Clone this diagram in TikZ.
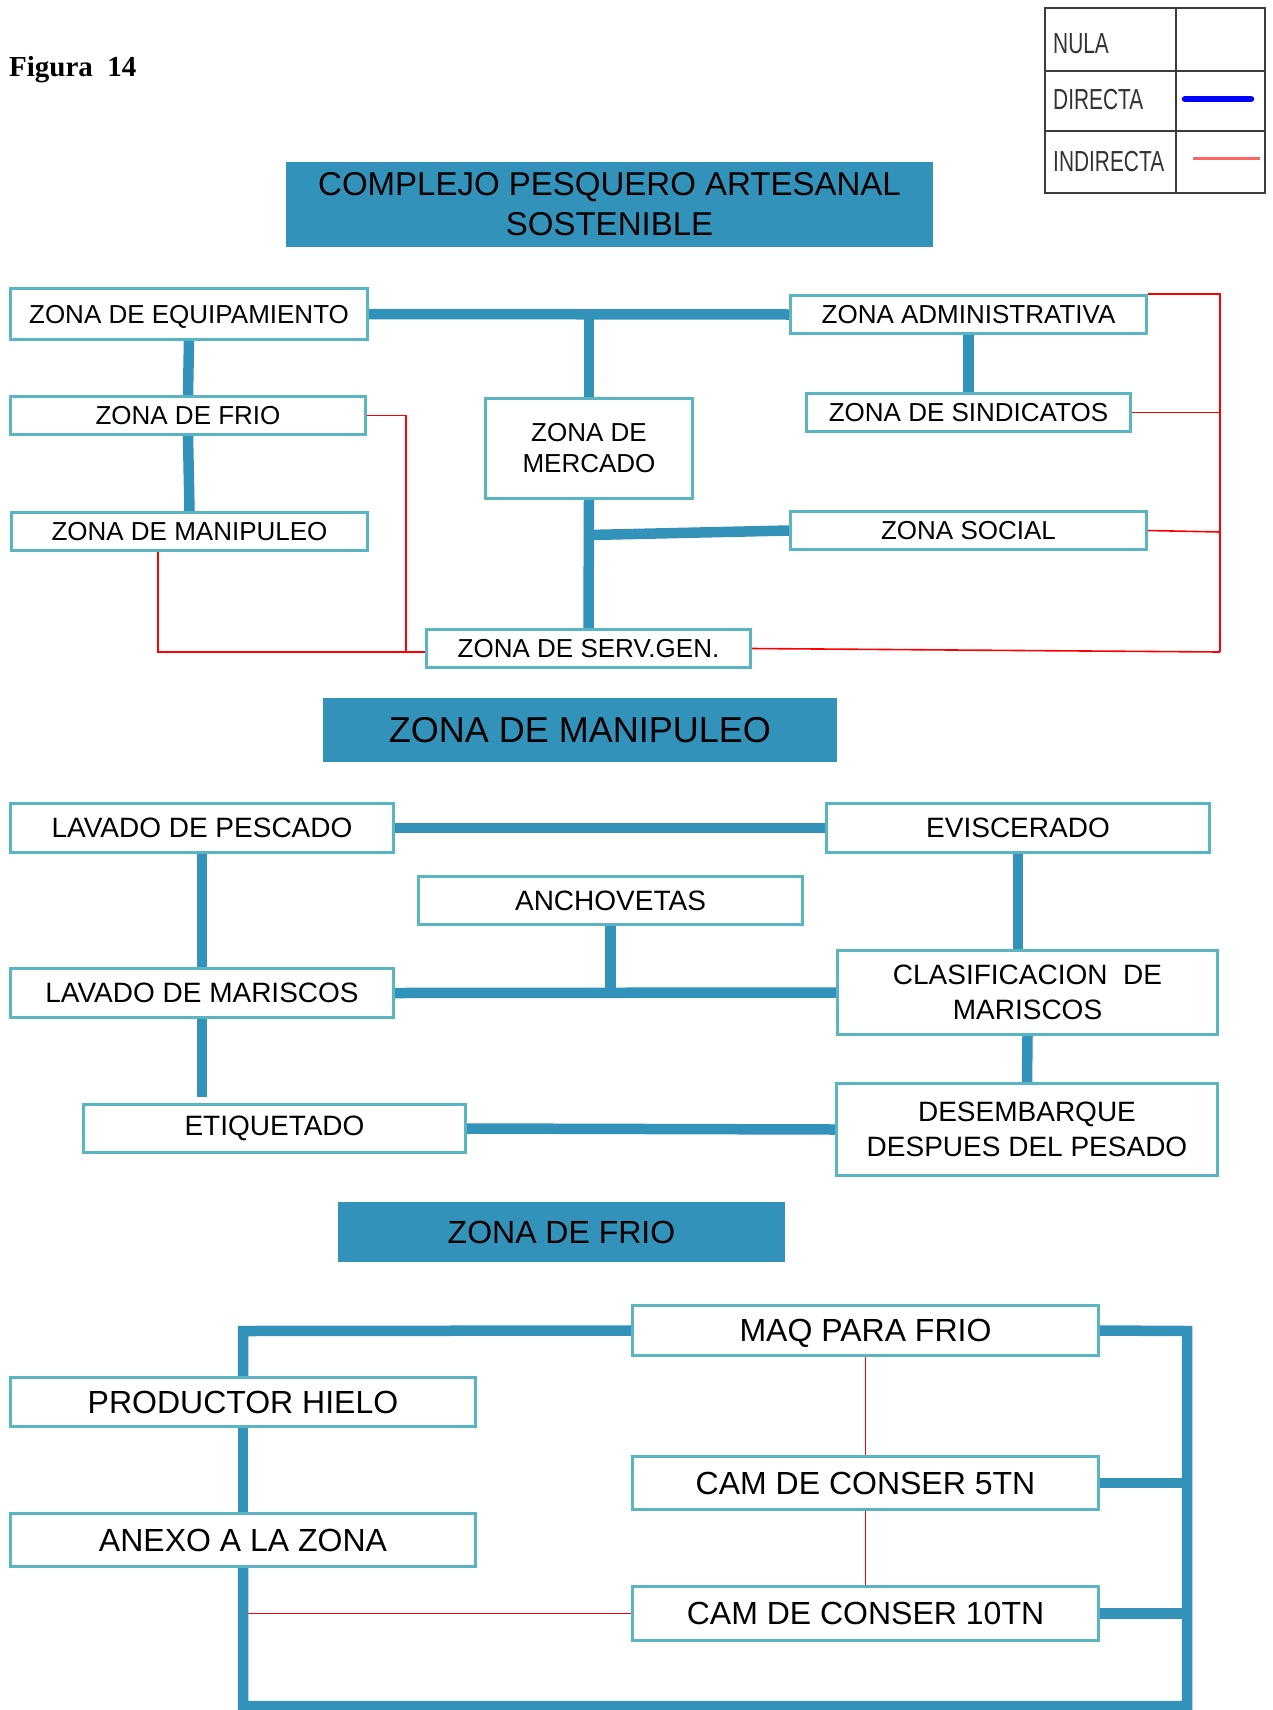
\documentclass[tikz,border=0pt]{standalone}
\usepackage{fontspec}
\setmainfont{Liberation Sans}
\newfontfamily\serifface{Liberation Serif}
\usetikzlibrary{backgrounds}
\definecolor{boxc}{RGB}{90,181,195}
\definecolor{tealfill}{RGB}{50,146,186}
\definecolor{legblue}{RGB}{0,0,255}
\definecolor{legred}{RGB}{255,100,100}
\definecolor{legline}{RGB}{60,60,60}
\begin{document}
\begin{tikzpicture}[x=1pt,y=-1pt,
  zbox/.style={draw=boxc, line width=3pt, fill=white, inner sep=0pt, align=center},
  ttl/.style={fill=tealfill, draw=none, inner sep=0pt, align=center},
  link/.style={draw=tealfill, line width=10.5pt, line join=miter},
  weak/.style={draw=red, line width=1.6pt},
  fa/.style={font=\fontsize{26}{31}\selectfont},
  fb/.style={font=\fontsize{28}{35}\selectfont},
  fc/.style={font=\fontsize{32}{38}\selectfont},
  legtext/.style={anchor=west, inner sep=0pt, text=black!80, font=\fontsize{29}{30}\selectfont}
]
\useasboundingbox (0,0) rectangle (1273,1710);

% caption
\node[anchor=base west, inner sep=0pt, font=\serifface\bfseries\fontsize{29}{30}\selectfont] (fig) at (9,77) {Figura\ \ 14};

% legend table
\draw[legline, line width=2.5pt] (1045,8) rectangle (1265,193);
\draw[legline, line width=2.5pt] (1176,8) -- (1176,193);
\draw[legline, line width=2.5pt] (1045,71) -- (1265,71);
\draw[legline, line width=2.5pt] (1045,131) -- (1265,131);
\node[legtext] (lnula) at (1053,44) {\scalebox{0.72}[1]{NULA}};
\node[legtext] (ldir) at (1053,100) {\scalebox{0.72}[1]{DIRECTA}};
\node[legtext] (lind) at (1053,162) {\scalebox{0.72}[1]{INDIRECTA}};
\draw[legblue, line width=6.5pt, line cap=round] (1185,99) -- (1251,99);
\draw[legred, line width=3pt] (1193,158) -- (1260,158);

% ---------- complejo pesquero ----------
\node[ttl, font=\fontsize{33}{40}\selectfont, minimum width=647pt, minimum height=85pt] (t1) at (609.5,204.5) {COMPLEJO PESQUERO ARTESANAL\\SOSTENIBLE};

\node[zbox, fa, text depth=0pt, minimum width=357pt, minimum height=51pt] (equip) at (189,314) {ZONA DE EQUIPAMIENTO};
\node[zbox, fa, minimum width=355pt, minimum height=38pt] (frio) at (188,415.5) {ZONA DE FRIO};
\node[zbox, fa, minimum width=356pt, minimum height=38pt] (manip) at (189.5,531.5) {ZONA DE MANIPULEO};
\node[zbox, fa, minimum width=207pt, minimum height=100pt] (merc) at (589,448.5) {ZONA DE\\MERCADO};
\node[zbox, fa, minimum width=324pt, minimum height=38pt] (serv) at (588.5,648.5) {ZONA DE SERV.GEN.};
\node[zbox, fa, minimum width=356pt, minimum height=38pt] (admin) at (968.5,314.5) {ZONA ADMINISTRATIVA};
\node[zbox, fa, minimum width=324pt, minimum height=38pt] (sind) at (968.5,412.5) {ZONA DE SINDICATOS};
\node[zbox, fa, minimum width=356pt, minimum height=38pt] (social) at (968.5,530.5) {ZONA SOCIAL};

% ---------- zona de manipuleo ----------
\node[ttl, font=\fontsize{36}{40}\selectfont, minimum width=514pt, minimum height=64pt] (t2) at (580,730) {ZONA DE MANIPULEO};

\node[zbox, fb, minimum width=383pt, minimum height=49pt] (lp) at (202,828) {LAVADO DE PESCADO};
\node[zbox, fb, minimum width=383pt, minimum height=49pt] (evis) at (1018,828) {EVISCERADO};
\node[zbox, fb, minimum width=384pt, minimum height=48pt] (anch) at (610.5,900.5) {ANCHOVETAS};
\node[zbox, fb, minimum width=383pt, minimum height=49pt] (lm) at (202,993) {LAVADO DE MARISCOS};
\node[zbox, fb, minimum width=380pt, minimum height=84pt] (clas) at (1027.5,992.5) {CLASIFICACION\ \ DE\\MARISCOS};
\node[zbox, fb, minimum width=382pt, minimum height=48pt] (eti) at (274.5,1128.5) {ETIQUETADO};
\node[zbox, fb, minimum width=381pt, minimum height=92pt] (des) at (1027,1129.5) {DESEMBARQUE\\DESPUES DEL PESADO};

% ---------- zona de frio ----------
\node[ttl, font=\fontsize{32}{38}\selectfont, minimum width=447pt, minimum height=60pt] (t3) at (561.5,1232) {ZONA DE FRIO};

\node[zbox, fc, text depth=0pt, minimum width=466pt, minimum height=50pt] (maq) at (865.5,1330.5) {MAQ PARA FRIO};
\node[zbox, fc, minimum width=466pt, minimum height=53pt] (c5) at (865.5,1483) {CAM DE CONSER 5TN};
\node[zbox, fc, minimum width=466pt, minimum height=54pt] (c10) at (865.5,1613.5) {CAM DE CONSER 10TN};
\node[zbox, fc, minimum width=465pt, minimum height=49pt] (prod) at (243,1402) {PRODUCTOR HIELO};
\node[zbox, fc, minimum width=465pt, minimum height=53pt] (anexo) at (243,1540) {ANEXO A LA ZONA};

\coordinate (rt) at (1220,296);
\coordinate (rb) at (1220,652);
\coordinate (lr) at (406,652);
\coordinate (ml) at (158,652);
\coordinate (jsoc) at (589,535);
\coordinate (cTL) at (243,1331);
\coordinate (cTR) at (1187,1331);
\coordinate (cBL) at (243,1706);
\coordinate (cBR) at (1187,1706);

\begin{pgfonlayer}{background}
  % indirect relations
  \draw[weak] (frio.east) -| (lr);
  \draw[weak] (ml |- manip.south) -- (ml) -- (ml -| serv.west);
  \draw[weak] (admin.north east) -- (admin.north east -| rt) -- (rb);
  \draw[weak] (sind.east) -- (sind.east -| rb);
  \draw[weak] (social.east) -- (rb |- 0,532);
  \draw[weak] (serv.east) -- (rb);
  \draw[weak] (maq.south) -- (c5.north);
  \draw[weak] (c5.south) -- (c10.north);
  \draw[weak] (c10.west) -- (c10.west -| cTL);

  % direct relations
  \draw[link] (equip.east) -- (admin.west);
  \draw[link] (merc.north |- equip.east) -- (merc.north);
  \draw[link] (equip.south) -- (frio.north);
  \draw[link] (frio.south) -- (manip.north);
  \draw[link] (merc.south) -- (serv.north);
  \draw[link] (admin.south) -- (sind.north);
  \draw[link] (jsoc) -- (social.west);

  \draw[link] (lp.east) -- (evis.west);
  \draw[link] (lp.south) -- (lm.north);
  \draw[link, shorten >=6pt] (lm.south) -- (lm.south |- eti.north);
  \draw[link] (anch.south) -- (anch.south |- lm.east);
  \draw[link] (lm.east) -- (clas.west);
  \draw[link] (evis.south) -- (evis.south |- clas.north);
  \draw[link] (clas.south) -- (des.north);
  \draw[link] (eti.east) -- (des.west);

  \draw[link] (maq.west) -- (cTL) -- (prod.north);
  \draw[link] (prod.south) -- (anexo.north);
  \draw[link] (anexo.south) -- (cBL) -- (cBR) -- (cTR) -- (maq.east);
  \draw[link] (c5.east) -- (c5.east -| cTR);
  \draw[link] (c10.east) -- (c10.east -| cTR);
\end{pgfonlayer}
\end{tikzpicture}
\end{document}
